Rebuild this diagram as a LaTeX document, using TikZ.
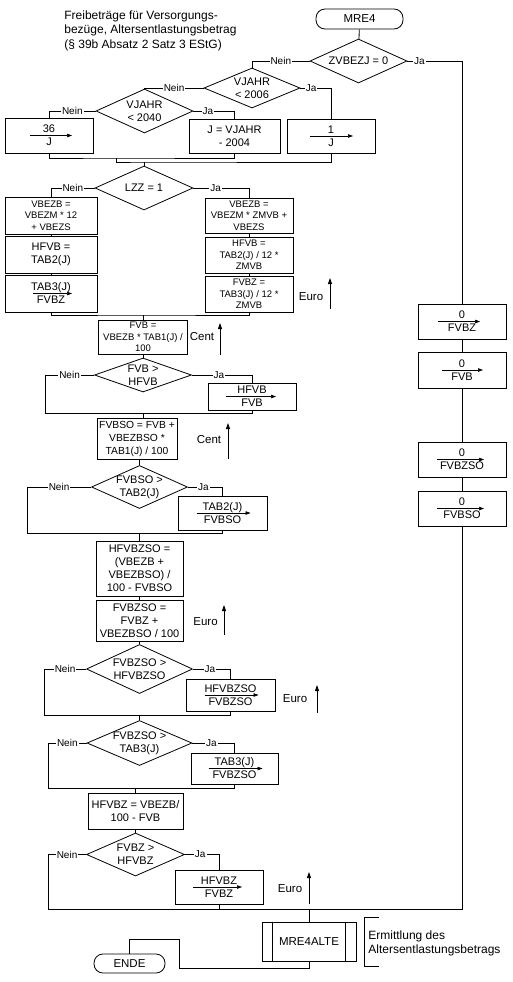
\documentclass[tikz,border=0pt]{standalone}
\usepackage{fontspec}
\setmainfont{Liberation Sans}
\usetikzlibrary{arrows.meta, shapes.geometric, calc}

\newcommand{\einheit}[7]{%
  \node[unit] (#1) at (#2,#3) {#4};
  \draw[hoch] (#5,#6) -- (#5,#7);}

\tikzset{
  wh/.style 2 args={minimum width=#1pt, minimum height=#2pt},
  term/.style={draw, rounded corners=9pt, inner sep=1pt},
  dec/.style={draw, diamond, aspect=2.6, inner sep=-3pt, align=center},
  proc/.style={draw, rectangle, inner sep=1pt, align=center},
  klein/.style={font=\fontsize{9.5}{11.5}\selectfont},
  zpfeil/.style={-{Triangle[length=5pt,width=3.5pt]}, line width=0.6pt},
  zuw/.style 2 args={proc, path picture={
      \draw[zpfeil] ([xshift=-#1pt]path picture bounding box.center)
        -- ([xshift=#2pt]path picture bounding box.center);}},
  lab/.style={fill=white, inner sep=1pt, font=\fontsize{10}{12}\selectfont},
  hoch/.style={-{Triangle[length=6pt,width=4pt]}},
  unit/.style={inner sep=0pt, font=\fontsize{11.5}{13}\selectfont},
}

\begin{document}
\begin{tikzpicture}[x=1pt, y=-1pt, line width=0.8pt, font=\fontsize{11}{13}\selectfont]
\useasboundingbox (0,0) rectangle (512,982);

% Titel
\node[anchor=north west, inner sep=0pt, align=left, font=\fontsize{12}{14.5}\selectfont] (titel) at (64,10)
  {Freibeträge für Versorgungs-\\bezüge, Altersentlastungsbetrag\\(§ 39b Absatz 2 Satz 3 EStG)};

% Kopf: J bestimmen
\node[term, wh={87}{20}, font=\fontsize{11.5}{13}\selectfont] (start) at (359.5,19) {MRE4};
\node[dec, wh={97}{44}] (zvbezj) at (358.5,61) {ZVBEZJ = 0};
\node[dec, wh={96}{40}] (vj2006) at (252,88) {VJAHR\\< 2006};
\node[dec, wh={97}{44}] (vj2040) at (144.5,111) {VJAHR\\< 2040};
\node[zuw={19}{23}, wh={88}{35}] (j36) at (49,135.5) {36\\J};
\node[proc, wh={91}{34}] (jber) at (234.5,136) {J = VJAHR\\- 2004};
\node[zuw={21}{22}, wh={88}{34}] (j1) at (331,136) {1\\J};

% LZZ
\node[dec, wh={98}{44}] (lzz) at (144,188) {LZZ = 1};
\node[proc, klein, wh={92}{37}] (vbezbl) at (51,215.5) {VBEZB =\\VBEZM * 12\\+ VBEZS};
\node[proc, wh={92}{37}] (hfvbl) at (51,254.5) {HFVB =\\TAB2(J)};
\node[zuw={18}{21}, wh={92}{37}] (fvbzl) at (51,293.5) {TAB3(J)\\FVBZ};
\node[proc, klein, wh={88}{35}] (vbezbr) at (249,215.5) {VBEZB =\\VBEZM * ZMVB +\\VBEZS};
\node[proc, klein, wh={88}{36}] (hfvbr) at (249,255) {HFVB =\\TAB2(J) / 12 *\\ZMVB};
\node[proc, klein, wh={88}{36}] (fvbzr) at (249,294) {FVBZ =\\TAB3(J) / 12 *\\ZMVB};

% FVB
\node[proc, klein, wh={89}{34}] (fvb) at (143,337) {FVB =\\VBEZB * TAB1(J) /\\100};
\node[dec, wh={97}{34}] (fvbhfvb) at (143,375) {FVB >\\HFVB};
\node[zuw={26}{24}, wh={88}{27}] (hfvbfvb) at (252,396.5) {HFVB\\FVB};

% FVBSO
\node[proc, wh={80}{41}, font=\fontsize{10.3}{13}\selectfont] (fvbso) at (137,438.5) {FVBSO = FVB +\\VBEZBSO *\\TAB1(J) / 100};
\node[dec, wh={96}{43}] (fvbsotab2) at (139.5,487) {FVBSO >\\TAB2(J)};
\node[zuw={26}{28}, wh={89}{34}] (tab2fvbso) at (222.5,513) {TAB2(J)\\FVBSO};

% FVBZSO
\node[proc, wh={87}{55}] (hfvbzso) at (139.5,568.5) {HFVBZSO =\\(VBEZB +\\VBEZBSO) /\\100 - FVBSO};
\node[proc, wh={87}{41}] (fvbzso) at (139.5,620.5) {FVBZSO =\\FVBZ +\\VBEZBSO / 100};
\node[dec, wh={106}{49}] (fvbzsohf) at (139.5,669) {FVBZSO >\\HFVBZSO};
\node[zuw={26}{28}, wh={89}{32}] (hfvbzsozuw) at (230.5,695) {HFVBZSO\\FVBZSO};
\node[dec, wh={105}{45}] (fvbzsotab3) at (139.5,743) {FVBZSO >\\TAB3(J)};
\node[zuw={26}{28}, wh={87}{31}] (tab3fvbzso) at (234.5,768.5) {TAB3(J)\\FVBZSO};

% FVBZ
\node[proc, wh={95}{36}] (hfvbz) at (135.5,811) {HFVBZ = VBEZB/\\100 - FVB};
\node[dec, wh={98}{43}] (fvbzhfvbz) at (135.5,854.5) {FVBZ >\\HFVBZ};
\node[zuw={26}{23}, wh={88}{34}] (hfvbzfvbz) at (219,887) {HFVBZ\\FVBZ};

% Ja-Zweig rechts
\node[zuw={24}{18}, wh={88}{35}] (null1) at (462,321.5) {0\\FVBZ};
\node[zuw={20}{21}, wh={88}{36}] (null2) at (462,370) {0\\FVB};
\node[zuw={25}{22}, wh={88}{35}] (null3) at (462,459.5) {0\\FVBZSO};
\node[zuw={25}{22}, wh={88}{35}] (null4) at (462,508.5) {0\\FVBSO};

% Ende
\node[proc, wh={94}{39}, font=\fontsize{11.5}{13}\selectfont] (alte) at (309,941.5) {MRE4ALTE};
\draw ([xshift=11pt]alte.north west) -- ([xshift=11pt]alte.south west);
\draw ([xshift=-11pt]alte.north east) -- ([xshift=-11pt]alte.south east);
\node[anchor=west, inner sep=0pt, align=left, font=\fontsize{12}{14}\selectfont] (erm) at (368,943)
  {Ermittlung des\\Altersentlastungsbetrags};
\draw (379,917) -- (364,917) -- (364,966) -- (379,966);
\node[term, wh={71}{19}, font=\fontsize{11.5}{13}\selectfont] (ende) at (129.5,963.5) {ENDE};

% Einheiten
\einheit{euro1}{311}{297}{Euro}{330}{309}{278}
\einheit{cent1}{202}{337}{Cent}{220}{355}{323}
\einheit{cent2}{209}{440}{Cent}{228}{459}{423}
\einheit{euro2}{205.5}{622}{Euro}{224}{635}{605}
\einheit{euro3}{295}{699}{Euro}{317}{713}{685}
\einheit{euro4}{290}{889}{Euro}{309}{904}{872}

% Verbindungen oben
\draw (start) -- (zvbezj);
\draw (zvbezj.west) -- node[lab]{Nein} (zvbezj.west -| vj2006.north) -- (vj2006.north);
\draw (zvbezj.east) -- node[lab, pos=.22]{Ja} (zvbezj.east -| null1.north) -- (null1.north);
\draw (vj2006.west) -- node[lab]{Nein} (vj2006.west -| vj2040.north) -- (vj2040.north);
\draw (vj2006.east) -- node[lab, pos=.35]{Ja} (vj2006.east -| j1.north) -- (j1.north);
\draw (vj2040.west) -- node[lab]{Nein} (vj2040.west -| j36.north) -- (j36.north);
\draw (vj2040.east) -- node[lab, pos=.35]{Ja} (vj2040.east -| jber.north) -- (jber.north);
\coordinate (m1) at (116,158);
\coordinate (m2) at (144,162);
\draw (j36.south) |- (m1) -| (jber.south);
\draw (m1) |- (m2) -| (j1.south);
\draw (m2) -- (lzz.north);

% LZZ
\draw (lzz.west) -- node[lab]{Nein} (lzz.west -| vbezbl.north) -- (vbezbl.north);
\draw (lzz.east) -- node[lab, pos=.4]{Ja} (lzz.east -| vbezbr.north) -- (vbezbr.north);
\draw (vbezbl) -- (hfvbl);
\draw (hfvbl) -- (fvbzl);
\draw (vbezbr) -- (hfvbr);
\draw (hfvbr) -- (fvbzr);
\coordinate (m3) at (143,315);
\draw (fvbzl.south) |- (m3) -| (fvbzr.south);
\draw (m3) -- (fvb.north);

% FVB
\draw (fvb) -- (fvbhfvb);
\coordinate (n4) at (45,413);
\draw (fvbhfvb.west) -- node[lab]{Nein} (fvbhfvb.west -| n4) -- (n4) -| (hfvbfvb.south);
\draw (fvbhfvb.east) -- node[lab, pos=.45]{Ja} (fvbhfvb.east -| hfvbfvb.north) -- (hfvbfvb.north);
\draw (fvbhfvb.south |- n4) -- (fvbhfvb.south |- fvbso.north);

% FVBSO
\draw (fvbso.south -| fvbsotab2.north) -- (fvbsotab2.north);
\coordinate (n5) at (27,533);
\draw (fvbsotab2.west) -- node[lab]{Nein} (fvbsotab2.west -| n5) -- (n5) -| (tab2fvbso.south);
\draw (fvbsotab2.east) -- node[lab, pos=.45]{Ja} (fvbsotab2.east -| tab2fvbso.north) -- (tab2fvbso.north);
\draw (hfvbzso.north |- n5) -- (hfvbzso.north);

% FVBZSO
\draw (hfvbzso) -- (fvbzso);
\draw (fvbzso) -- (fvbzsohf);
\coordinate (n6) at (44,715);
\draw (fvbzsohf.west) -- node[lab]{Nein} (fvbzsohf.west -| n6) -- (n6) -| (hfvbzsozuw.south);
\draw (fvbzsohf.east) -- node[lab, pos=.45]{Ja} (fvbzsohf.east -| hfvbzsozuw.north) -- (hfvbzsozuw.north);
\draw (fvbzsotab3.north |- n6) -- (fvbzsotab3.north);
\coordinate (n7) at (48,788);
\draw (fvbzsotab3.west) -- node[lab]{Nein} (fvbzsotab3.west -| n7) -- (n7) -| (tab3fvbzso.south);
\draw (fvbzsotab3.east) -- node[lab, pos=.45]{Ja} (fvbzsotab3.east -| tab3fvbzso.north) -- (tab3fvbzso.north);
\draw (hfvbz.north |- n7) -- (hfvbz.north);

% FVBZ
\draw (hfvbz) -- (fvbzhfvbz);
\coordinate (n8) at (48,909);
\draw (fvbzhfvbz.west) -- node[lab]{Nein} (fvbzhfvbz.west -| n8) -- (n8) -- (null4.south |- n8) -- (null4.south);
\draw (fvbzhfvbz.east) -- node[lab, pos=.45]{Ja} (fvbzhfvbz.east -| hfvbzfvbz.north) -- (hfvbzfvbz.north);
\draw (hfvbzfvbz.south) -- (hfvbzfvbz.south |- n8);

% rechter Zweig
\draw (null1) -- (null2);
\draw (null2) -- (null3);
\draw (null3) -- (null4);

% Abschluss
\draw (alte.north |- n8) -- (alte.north);
\coordinate (e1) at (179,968);
\coordinate (e2) at (179,939);
\draw (alte.south) |- (e1) -- (e2) -| (ende.north);
\end{tikzpicture}
\end{document}
